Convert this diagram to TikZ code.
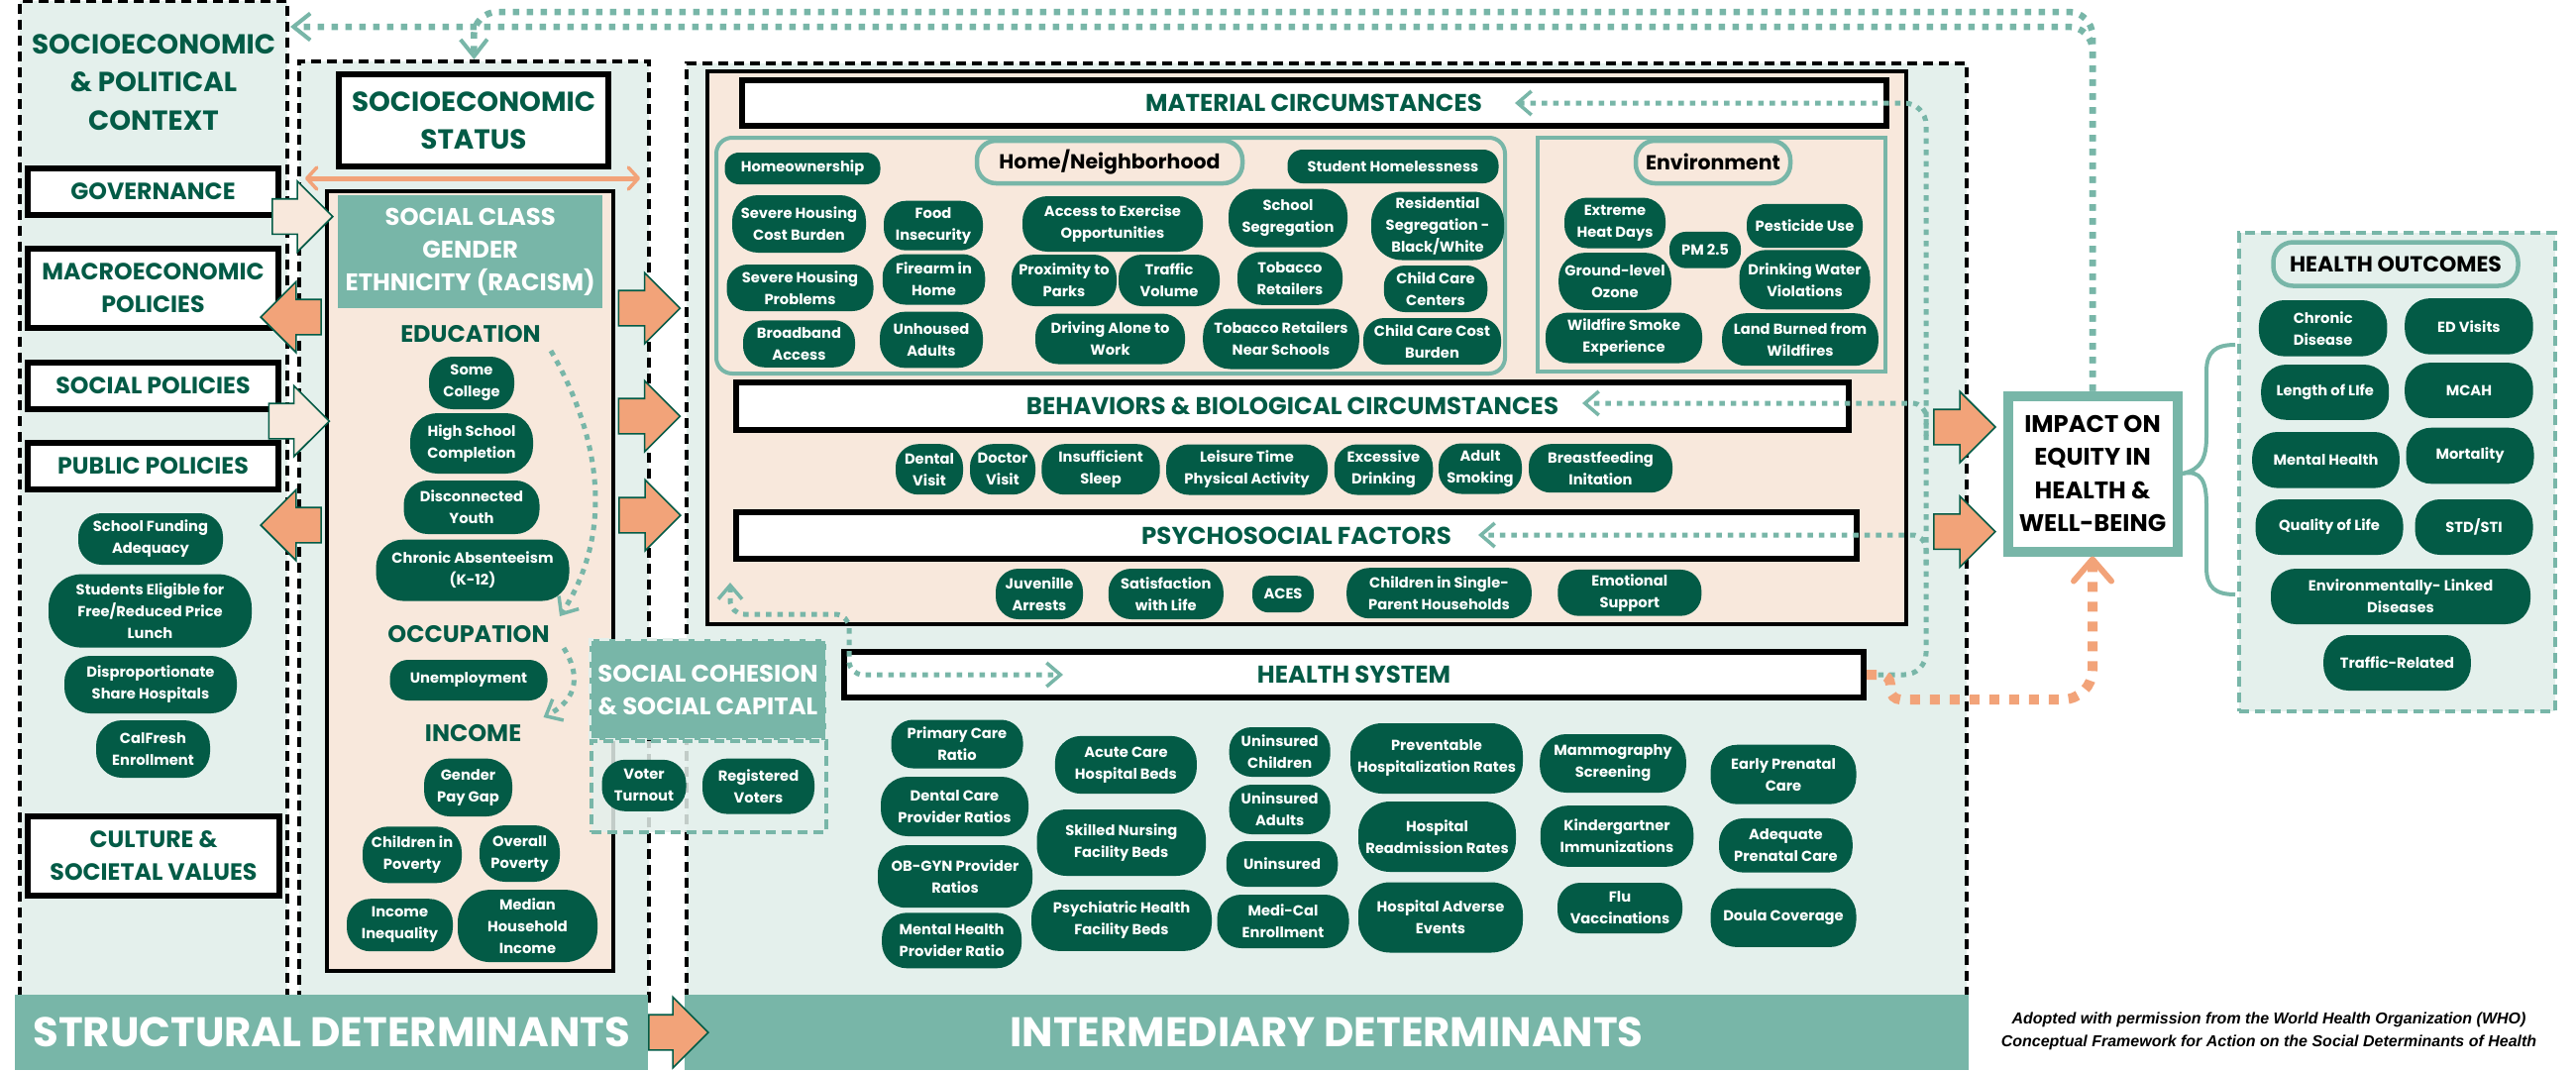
\documentclass[tikz,border=0pt]{standalone}
\usepackage{fontspec}
\setmainfont{Poppins}
\newfontfamily\creditfont{Liberation Sans}
\usetikzlibrary{arrows.meta, shapes.arrows}

\definecolor{deepgreen}{HTML}{035B46}
\definecolor{tealmid}{HTML}{78B6A8}
\definecolor{palegreen}{HTML}{E4F0EC}
\definecolor{peach}{HTML}{F8E8DC}
\definecolor{salmon}{HTML}{F2A379}

\tikzset{
    sized/.style 2 args={minimum width=#1pt, minimum height=#2pt, inner sep=0pt, align=center},
    pill/.style 2 args={sized={#1}{#2}, fill=deepgreen, text=white, rounded corners=#2pt*0.45,
        font=\bfseries\fontsize{14.7}{22}\selectfont},
    zone/.style 2 args={sized={#1}{#2}, draw=black, fill=palegreen, line width=4pt, dash pattern=on 10pt off 6pt},
    headbox/.style 2 args={sized={#1}{#2}, draw=black, fill=white, line width=6pt, text=deepgreen,
        font=\bfseries\fontsize{24.5}{38}\selectfont},
    sidebox/.style 2 args={headbox={#1}{#2}, font=\bfseries\fontsize{23.7}{33}\selectfont},
    peachbox/.style 2 args={sized={#1}{#2}, draw=black, fill=peach, line width=4pt},
    topic/.style={text=deepgreen, font=\bfseries\fontsize{24}{30}\selectfont},
    tealbox/.style 2 args={sized={#1}{#2}, fill=tealmid, text=white, font=\bfseries\fontsize{24.3}{33}\selectfont},
    labelpill/.style 2 args={sized={#1}{#2}, draw=tealmid, line width=4.5pt, rounded corners=#2pt*0.45,
        text=black, font=\bfseries\fontsize{20.5}{26}\selectfont},
    bigarrow/.style 2 args={single arrow, draw=deepgreen, line width=1.6pt, fill=#1, inner xsep=0pt, inner ysep=17pt,
        minimum width=70pt, minimum height=#2pt, single arrow head extend=18pt,
        single arrow head indent=0pt, anchor=tip},
    dotwide/.style={draw=tealmid, line width=6.5pt, dash pattern=on 6.5pt off 7.5pt},
    dotthin/.style={draw=tealmid, line width=5pt, dash pattern=on 5.5pt off 6pt},
    dotorange/.style={draw=salmon, line width=10pt, dash pattern=on 10pt off 10pt},
    widetip/.tip={Straight Barb[length=17pt, width=27pt, line width=4pt]},
    thintip/.tip={Straight Barb[length=14pt, width=24pt, line width=3.5pt]},
    orangetip/.tip={Straight Barb[length=22pt, width=38pt, line width=6pt, round]}
}

\begin{document}
\begin{tikzpicture}[x=1pt, y=-1pt]
   \useasboundingbox (0,0) rectangle (2600,1080);

   % Three dashed zones
   \node[zone={270}{1009}] (context) at (155,505.5) {};
   \node[zone={353}{948}] (sespanel) at (478.5,536) {};
   \node[zone={1292}{946}] (interpanel) at (1339,537) {};

   % Structural side
   \node[text=deepgreen, align=center, font=\bfseries\fontsize{27.8}{38.5}\selectfont] (contexttitle) at (155,83) {SOCIOECONOMIC\\\& POLITICAL\\CONTEXT};
   \node[sidebox={253}{47}] (governance) at (154.5,193.5) {GOVERNANCE};
   \node[sidebox={253}{80}] (macro) at (154.5,291) {MACROECONOMIC\\POLICIES};
   \node[sidebox={253}{47}] (socialpol) at (154.5,389) {SOCIAL POLICIES};
   \node[sidebox={253}{47}] (publicpol) at (154.5,470) {PUBLIC POLICIES};
   \node[sidebox={254}{80}] (culture) at (155,863.6) {CULTURE \&\\SOCIETAL VALUES};

   \node[pill={146}{52}] (funding) at (152,544) {School Funding\\Adequacy};
   \node[pill={205}{74}] (freelunch) at (151.5,616.6) {Students Eligible for\\Free/Reduced Price\\Lunch};
   \node[pill={174}{58}] (disprop) at (152,691) {Disproportionate\\Share Hospitals};
   \node[pill={115}{58}] (calfresh) at (154.5,756) {CalFresh\\Enrollment};

   \node[headbox={272}{93}, font=\bfseries\fontsize{27.8}{38}\selectfont] (ses) at (478,121.5) {SOCIOECONOMIC\\STATUS};
   \node[peachbox={289}{787}] (classbox) at (474.5,586.5) {};
   \node[tealbox={266.5}{114}] (classhead) at (474.7,254) {SOCIAL CLASS\\GENDER\\ETHNICITY (RACISM)};

   \node[topic] (education) at (475,337) {EDUCATION};
   \node[pill={86}{53}] (somecollege) at (476,386.5) {Some\\College};
   \node[pill={124}{61}] (highschool) at (476,447.5) {High School\\Completion};
   \node[pill={137}{54}] (disconnected) at (476,512) {Disconnected\\Youth};
   \node[pill={195}{62}] (absentee) at (477,575.6) {Chronic Absenteeism\\(K-12)};
   \node[topic] (occupation) at (473,640) {OCCUPATION};
   \node[pill={159}{41}] (unemployment) at (473,686.5) {Unemployment};
   \node[topic] (income) at (477.6,740) {INCOME};
   \node[pill={89}{58.5}] (paygap) at (472.5,794.8) {Gender\\Pay Gap};
   \node[pill={100}{57}] (childpoverty) at (416,862.8) {Children in\\Poverty};
   \node[pill={81}{57}] (overallpoverty) at (524.5,861.5) {Overall\\Poverty};
   \node[pill={107}{53}] (inequality) at (403.5,933.7) {Income\\Inequality};
   \node[pill={141}{73}] (median) at (532.5,934.6) {Median\\Household\\Income};

   % Material circumstances
   \node[peachbox={1210}{557.5}] (matbox) at (1318.8,351.2) {};
   \node[headbox={1155}{46}] (material) at (1326,104) {MATERIAL CIRCUMSTANCES};
   \node[sized={796}{238}, draw=tealmid, line width=4pt, rounded corners=16pt] (homeframe) at (1121,258) {};
   \node[sized={351}{236}, draw=tealmid, line width=4pt] (envframe) at (1727.5,257) {};
   \node[labelpill={268}{43}] (homelabel) at (1120,163.5) {Home/Neighborhood};
   \node[labelpill={156}{43}] (envlabel) at (1729,163.5) {Environment};

   \node[pill={157}{32}] (homeowner) at (810,170) {Homeownership};
   \node[pill={213}{34}] (homeless) at (1406,168) {Student Homelessness};
   \node[pill={135}{58}] (costburden) at (806.5,226) {Severe Housing\\Cost Burden};
   \node[pill={100}{50}] (food) at (942,227.7) {Food\\Insecurity};
   \node[pill={182}{56}] (exercise) at (1123,226) {Access to Exercise\\Opportunities};
   \node[pill={120}{59}] (schoolseg) at (1300,220) {School\\Segregation};
   \node[pill={134}{69}] (residential) at (1451,228) {Residential\\Segregation -\\Black/White};
   \node[pill={148}{47}] (problems) at (807.5,290.5) {Severe Housing\\Problems};
   \node[pill={103.5}{51}] (firearm) at (942.5,282) {Firearm in\\Home};
   \node[pill={106}{52}] (parks) at (1074,283) {Proximity to\\Parks};
   \node[pill={102}{52}] (traffic) at (1180,283) {Traffic\\Volume};
   \node[pill={106}{53.5}] (tobacco) at (1302,281) {Tobacco\\Retailers};
   \node[pill={104.5}{47}] (childcare) at (1449,291.5) {Child Care\\Centers};
   \node[pill={113}{47.5}] (broadband) at (806.5,347) {Broadband\\Access};
   \node[pill={104}{56.7}] (unhoused) at (940,343) {Unhoused\\Adults};
   \node[pill={151}{51}] (driving) at (1120.5,342) {Driving Alone to\\Work};
   \node[pill={157.6}{61}] (nearschools) at (1293,342) {Tobacco Retailers\\Near Schools};
   \node[pill={139}{47}] (carecost) at (1445.5,344.5) {Child Care Cost\\Burden};

   \node[pill={102}{51}] (heatdays) at (1630,225) {Extreme\\Heat Days};
   \node[pill={72}{36.7}] (pmtwo) at (1721,252.3) {PM 2.5};
   \node[pill={117}{44.3}] (pesticide) at (1821.5,228) {Pesticide Use};
   \node[pill={113.6}{57.7}] (ozone) at (1630,284) {Ground-level\\Ozone};
   \node[pill={132}{60}] (water) at (1821.5,282.3) {Drinking Water\\Violations};
   \node[pill={158}{51}] (smoke) at (1639,341) {Wildfire Smoke\\Experience};
   \node[pill={157.7}{53}] (burned) at (1817,342.7) {Land Burned from\\Wildfires};

   % Behaviors and psychosocial rows
   \node[headbox={1123}{48}] (behaviors) at (1304.5,410) {BEHAVIORS \& BIOLOGICAL CIRCUMSTANCES};
   \node[pill={68}{51}] (dental) at (938,473.7) {Dental\\Visit};
   \node[pill={66}{51}] (doctor) at (1012,473.7) {Doctor\\Visit};
   \node[pill={119.4}{51}] (sleep) at (1111,473.7) {Insufficient\\Sleep};
   \node[pill={163}{51}] (leisure) at (1258.5,474) {Leisure Time\\Physical Activity};
   \node[pill={99.5}{51}] (drinking) at (1396.5,474) {Excessive\\Drinking};
   \node[pill={84}{51}] (smoking) at (1494,473) {Adult\\Smoking};
   \node[pill={145}{49}] (breastfeed) at (1615.5,472.7) {Breastfeeding\\Initation};

   \node[headbox={1131}{47}] (psycho) at (1308.5,540.6) {PSYCHOSOCIAL FACTORS};
   \node[pill={88}{51}] (juvenile) at (1049,599.5) {Juvenille\\Arrests};
   \node[pill={116}{51}] (satisfaction) at (1176.8,599.5) {Satisfaction\\with Life};
   \node[pill={62}{37}] (aces) at (1295,599.7) {ACES};
   \node[pill={186.6}{51}] (singleparent) at (1452.5,598.7) {Children in Single-\\Parent Households};
   \node[pill={145}{46.7}] (emotional) at (1644.8,598.3) {Emotional\\Support};

   % Health system
   \node[headbox={1029}{46}] (hsys) at (1366.5,681) {HEALTH SYSTEM};
   \node[pill={133}{49}] (primary) at (966,751) {Primary Care\\Ratio};
   \node[pill={149}{60}] (dentalratio) at (963.5,814) {Dental Care\\Provider Ratios};
   \node[pill={156}{63}] (obgyn) at (964,884.7) {OB-GYN Provider\\Ratios};
   \node[pill={141}{56}] (mentalratio) at (960.6,949.3) {Mental Health\\Provider Ratio};
   \node[pill={143}{58.3}] (acute) at (1136.4,772) {Acute Care\\Hospital Beds};
   \node[pill={170.6}{67}] (nursing) at (1131.8,850.5) {Skilled Nursing\\Facility Beds};
   \node[pill={182}{61.7}] (psychiatric) at (1132,929) {Psychiatric Health\\Facility Beds};
   \node[pill={102}{50}] (unchildren) at (1291.7,759) {Uninsured\\Children};
   \node[pill={102}{50}] (unadults) at (1291.7,817) {Uninsured\\Adults};
   \node[pill={112.5}{46}] (uninsured) at (1294,872) {Uninsured};
   \node[pill={133}{54}] (medical) at (1295,930) {Medi-Cal\\Enrollment};
   \node[pill={174}{71}] (preventable) at (1450,765.5) {Preventable\\Hospitalization Rates};
   \node[pill={159}{71}] (readmission) at (1450.5,844.5) {Hospital\\Readmission Rates};
   \node[pill={166}{71}] (adverse) at (1454,926) {Hospital Adverse\\Events};
   \node[pill={147.7}{59}] (mammography) at (1628,770.5) {Mammography\\Screening};
   \node[pill={154.5}{61.7}] (kinder) at (1632,844) {Kindergartner\\Immunizations};
   \node[pill={126}{51}] (flu) at (1635,916.5) {Flu\\Vaccinations};
   \node[pill={147}{60}] (earlycare) at (1800,781.7) {Early Prenatal\\Care};
   \node[pill={134.7}{54.7}] (adequate) at (1802.4,853.3) {Adequate\\Prenatal Care};
   \node[pill={147}{59.3}] (doula) at (1800,926.3) {Doula Coverage};

   % Social cohesion overlaps both zones
   \node[tealbox={239}{101.6}, draw=palegreen, line width=3pt, dash pattern=on 10pt off 6pt] (cohesion) at (714.5,696) {SOCIAL COHESION\\\& SOCIAL CAPITAL};
   \node[sized={237}{92}, draw=tealmid, line width=3.5pt, dash pattern=on 10pt off 6pt, fill=palegreen, fill opacity=0.85] (cohesionlow) at (715.5,794) {};
   \node[pill={85}{52}] (turnout) at (650,792.8) {Voter\\Turnout};
   \node[pill={113}{56}] (registered) at (765.5,793.6) {Registered\\Voters};

   % Banners
   \node[tealbox={639.4}{76}, font=\bfseries\fontsize{41.8}{48}\selectfont] (structural) at (334.7,1042) {STRUCTURAL DETERMINANTS};
   \node[tealbox={1296}{76}, font=\bfseries\fontsize{41.8}{48}\selectfont] (intermediary) at (1339,1042) {INTERMEDIARY DETERMINANTS};

   % Outcomes
   \node[sized={171}{157}, draw=tealmid, fill=white, line width=10pt, font=\bfseries\fontsize{24.2}{33.2}\selectfont] (impact) at (2112,478) {IMPACT ON\\EQUITY IN\\HEALTH \&\\WELL-BEING};
   \node[sized={318.6}{483}, draw=tealmid, fill=palegreen, line width=4pt, dash pattern=on 10pt off 6pt] (outcomes) at (2419.3,476.5) {};
   \node[labelpill={247}{44}, font=\bfseries\fontsize{22}{26}\selectfont] (outlabel) at (2418,266.5) {HEALTH OUTCOMES};
   \node[pill={129.5}{56.6}] (chronic) at (2344.7,331.3) {Chronic\\Disease};
   \node[pill={129.5}{56.6}] (edvisits) at (2491.9,329.4) {ED Visits};
   \node[pill={129}{55.7}] (lifelength) at (2346.7,395.9) {Length of LIfe};
   \node[pill={129.5}{55.7}] (mcah) at (2491.9,394) {MCAH};
   \node[pill={148.7}{56.6}] (mental) at (2347.5,464.3) {Mental Health};
   \node[pill={129}{56.6}] (mortality) at (2493,460) {Mortality};
   \node[pill={149}{56}] (quality) at (2351,532) {Quality of Life};
   \node[pill={119}{56}] (stdsti) at (2497,532) {STD/STI};
   \node[pill={262}{56}] (envlinked) at (2423,602) {Environmentally- Linked\\Diseases};
   \node[pill={148.7}{56}] (trafficrel) at (2419.5,669) {Traffic-Related};

   \node[align=center, font=\creditfont\bfseries\itshape\fontsize{16}{22.7}\selectfont] (credit) at (2290,1041) {Adopted with permission from the World Health Organization (WHO)\\Conceptual Framework for Action on the Social Determinants of Health};

   % Block arrows
   \node[bigarrow={peach}{61}] (arrgov) at (337,218.5) {};
   \node[bigarrow={peach}{61}] (arrsoc) at (333.5,425) {};
   \node[bigarrow={salmon}{61}, shape border rotate=180] (arrmacro) at (262,320) {};
   \node[bigarrow={salmon}{61}, shape border rotate=180] (arrfund) at (262,530) {};
   \node[bigarrow={salmon}{62}] (arrone) at (687.5,311) {};
   \node[bigarrow={salmon}{62}] (arrtwo) at (687.5,420) {};
   \node[bigarrow={salmon}{62}] (arrthree) at (688,520) {};
   \node[bigarrow={salmon}{60}] (arrbanner) at (716,1042) {};
   \node[bigarrow={salmon}{62}] (arrimpactone) at (2015,431) {};
   \node[bigarrow={salmon}{62}] (arrimpacttwo) at (2015,536.6) {};

   % Free ends
   \coordinate (ctxend) at (293,27);
   \coordinate (matend) at (1529,104);
   \coordinate (behend) at (1597,407);
   \coordinate (psyend) at (1492,540);
   \coordinate (matin) at (737,588);
   \coordinate (hsend) at (1073,681);
   \coordinate (edustart) at (556,354);
   \coordinate (eduend) at (565,622);
   \coordinate (occstart) at (569,654);
   \coordinate (occend) at (548.5,724);
   \coordinate (bracetop) at (2256,348);
   \coordinate (bracebot) at (2256,600);

   % Feedback lines
   \draw[dotwide, -{widetip}, rounded corners=24pt] (impact.north) -- (2112,27) -- (ctxend);
   \draw[dotwide, -{widetip}, rounded corners=24pt] (impact.north) -- (2112,12) -- (478,12) -- (sespanel.north);
   \draw[dotthin, -{thintip}, rounded corners=22pt] (hsys.east) -- (1944,681) -- (1944,104) -- (matend);
   \draw[dotthin, -{thintip}, rounded corners=14pt] (1944,440) -- (1944,407) -- (behend);
   \draw[dotthin, -{thintip}, rounded corners=14pt] (1944,570) -- (1944,540) -- (psyend);
   \draw[dotthin, {thintip}-{thintip}, rounded corners=14pt] (matin) -- (737,620) -- (857,620) -- (857,681) -- (hsend);
   \draw[dotorange, -{orangetip}] [rounded corners=10pt] (hsys.east) -- (1908,681) -- (1908,706) [rounded corners=30pt] -- (2112,706) -- (impact.south);
   \draw[dotthin, -{thintip}] (edustart) .. controls (600,430) and (625,530) .. (eduend);
   \draw[dotthin, -{thintip}] (occstart) .. controls (585,680) and (585,705) .. (occend);

   % Double arrow and brace
   \coordinate (rankleft) at (308,180);
   \coordinate (rankright) at (646,180);
   \draw[salmon, line width=5pt, {Straight Barb[length=10pt, width=22pt, line width=3.5pt, round]}-{Straight Barb[length=10pt, width=22pt, line width=3.5pt, round]}] (rankleft) -- (rankright);
   \draw[tealmid, line width=4pt] (impact.east) .. controls (2222,474) and (2227,462) .. (2227,440) -- (2227,375) .. controls (2227,355) and (2236,348) .. (bracetop);
   \draw[tealmid, line width=4pt] (impact.east) .. controls (2222,474) and (2227,486) .. (2227,510) -- (2227,573) .. controls (2227,593) and (2236,600) .. (bracebot);
\end{tikzpicture}
\end{document}
